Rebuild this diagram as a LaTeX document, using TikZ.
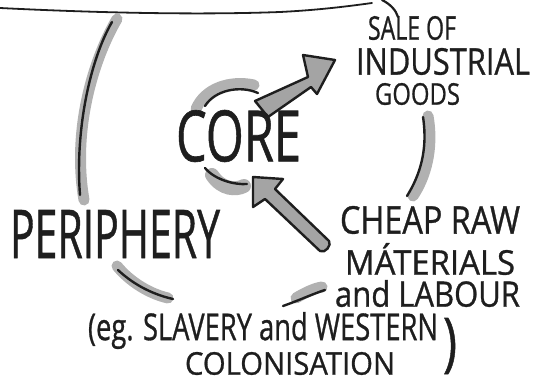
\documentclass[tikz,border=0pt]{standalone}
\usepackage{fontspec}
\setmainfont{Open Sans}
\usepackage{graphicx}
\definecolor{ink}{HTML}{1E1E1E}
\definecolor{shade}{HTML}{A9A9A9}
\definecolor{arrowfill}{HTML}{A4A4A4}
\newcommand{\fitbox}[3]{\resizebox*{#1}{#2}{\addfontfeature{FakeBold=0.9}#3}}
\tikzset{
  inkline/.style={draw=ink, line width=2.4pt, line cap=round},
  shadeline/.style={draw=shade, line width=11pt, line cap=round, opacity=0.9},
  handtext/.style={inner sep=0pt, outer sep=0pt, anchor=north west, text=ink},
  bigarrow/.style={draw=ink, fill=arrowfill, line width=2.4pt, line join=round},
}
\begin{document}
\begin{tikzpicture}[x=1pt,y=-1pt]
\useasboundingbox (0,0) rectangle (534,382);
% top line
\draw[draw=ink, line width=1.8pt, line cap=round] (0,8) .. controls (100,13) and (200,15) .. (280,12) .. controls (320,10) and (350,6) .. (372,3);
\draw[draw=ink, line width=2.2pt, line cap=round] (382,0) .. controls (390,4) and (396,10) .. (398,17);
% outer circle arcs
\draw[shadeline] (117,19) .. controls (93,60) and (72,130) .. (84,200);
\draw[inkline] (112,22) .. controls (90,60) and (75,130) .. (80,195);
\draw[shadeline] (428,116) .. controls (434,150) and (425,178) .. (413,196);
\draw[inkline] (423,117) .. controls (428,150) and (420,175) .. (407,196);
\draw[shadeline] (117,266) .. controls (130,282) and (150,294) .. (168,298);
\draw[inkline] (118,270) .. controls (135,286) and (155,295) .. (173,299);
\draw[shadeline] (296,298) .. controls (306,292) and (315,288) .. (322,287);
\draw[inkline] (283,306) .. controls (300,300) and (315,293) .. (325,290);
% inner circle arcs
\draw[shadeline] (196,109) .. controls (205,88) and (230,80) .. (254,85);
\draw[inkline] (205,106) .. controls (215,90) and (240,85) .. (258,93);
\draw[shadeline, line width=14pt] (212,175) .. controls (222,190) and (236,190) .. (244,186);
\draw[inkline] (205,168) .. controls (215,180) and (235,185) .. (247,184);
% arrows
\draw[bigarrow] (255,101) -- (308,77) -- (303,55) -- (335,60) -- (317,94) -- (311,87) -- (268,117) -- cycle;
\draw[bigarrow] (253,177) -- (283,179) -- (275,189) -- (329,241) .. controls (332,245) and (325,254) .. (320,251) -- (265,199) -- (253,207) -- cycle;
% texts
\node[handtext] (core) at (176,110) {\fitbox{125pt}{52pt}{CORE}};
\node[handtext] (periph) at (10,210) {\fitbox{210pt}{48pt}{PERIPHERY}};
\node[handtext] (sale) at (368,16) {\fitbox{88pt}{24pt}{SALE OF}};
\node[handtext] (indus) at (356,48) {\fitbox{174pt}{27pt}{INDUSTRIAL}};
\node[handtext] (goods) at (375,83) {\fitbox{85pt}{22pt}{GOODS}};
\node[handtext] (cheap) at (340,206) {\fitbox{180pt}{28pt}{CHEAP RAW}};
\node[handtext] (mater) at (345,243) {\fitbox{170pt}{32pt}{MÁTERIALS}};
\node[handtext] (labour) at (335,280) {\fitbox{185pt}{27pt}{and LABOUR}};
\node[handtext] (eg) at (88,312) {\fitbox{350pt}{37pt}{(eg. SLAVERY and WESTERN}};
\node[handtext] (colon) at (185,352) {\fitbox{210pt}{23pt}{COLONISATION}};
\node[handtext] (rparen) at (443,318) {\fitbox{14pt}{56pt}{)}};
\end{tikzpicture}
\end{document}
